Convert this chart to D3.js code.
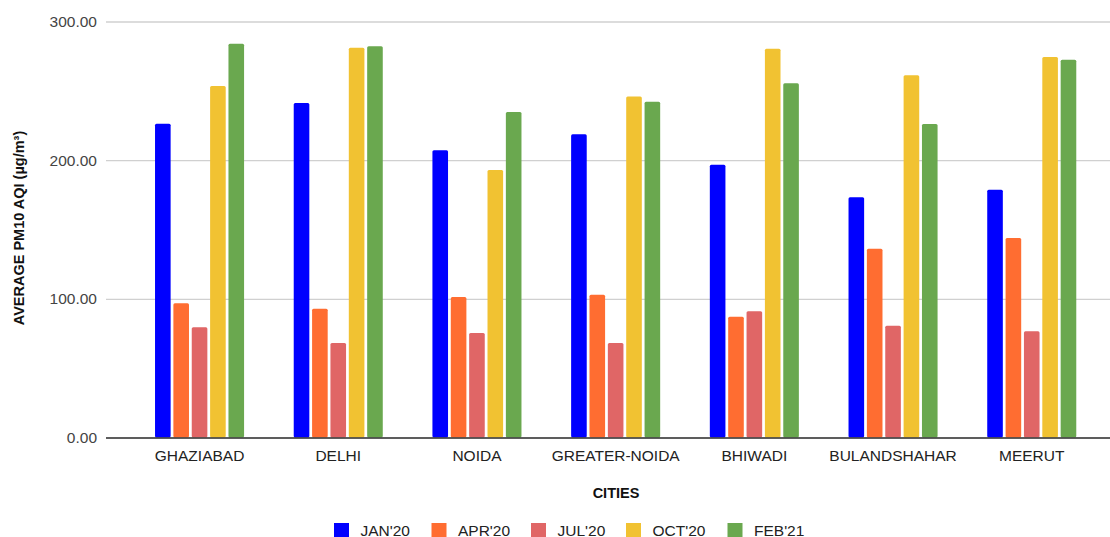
<!DOCTYPE html>
<html>
<head>
<meta charset="utf-8">
<script src="https://cdn.jsdelivr.net/npm/d3@7"></script>
<style>
  html, body { margin: 0; padding: 0; background: #fff; }
  svg { display: block; font-family: "Liberation Sans", Arial, sans-serif; }
</style>
</head>
<body>
<svg id="chart" width="1110" height="537"></svg>
<script>
// Average PM10 AQI by city and month
const cities = ["GHAZIABAD", "DELHI", "NOIDA", "GREATER-NOIDA", "BHIWADI", "BULANDSHAHAR", "MEERUT"];
const periods = ["JAN'20", "APR'20", "JUL'20", "OCT'20", "FEB'21"];
const jan20 = [226.3, 241.2, 207.1, 218.6, 196.7, 173.2, 178.7];
const apr20 = [96.8, 92.9, 101.3, 103.0, 87.1, 136.2, 143.9];
const jul20 = [79.5, 68.1, 75.4, 68.1, 91.0, 80.6, 76.6];
const oct20 = [253.5, 281.1, 192.9, 246.0, 280.3, 261.2, 274.4];
const feb21 = [284.0, 282.1, 234.7, 242.2, 255.4, 226.1, 272.4];
const yTicks = [0, 100, 200, 300];
const colors = ["#0000ff", "#ff6d31", "#e06666", "#f1c232", "#6aa84f"];

const seriesValues = [jan20, apr20, jul20, oct20, feb21];

const svg = d3.select("#chart");
const plotLeft = 106, plotRight = 1110, plotTop = 21.5, plotBottom = 437.5;

const x0 = d3.scaleBand().domain(cities).range([130.2, 1101.1])
  .paddingInner(0.358).paddingOuter(0.179);
const x1 = d3.scaleBand().domain(periods).range([0, x0.bandwidth()])
  .paddingInner(0.15).paddingOuter(0);
const y = d3.scaleLinear().domain([0, 300]).range([plotBottom, plotTop]);
const color = d3.scaleOrdinal().domain(periods).range(colors);

// Gridlines and y labels
const yAxis = svg.append("g").attr("transform", `translate(${plotLeft},0)`)
  .call(d3.axisLeft(y).tickValues(yTicks).tickFormat(d3.format(".2f"))
    .tickSize(-(plotRight - plotLeft)).tickPadding(9));
yAxis.select(".domain").remove();
yAxis.selectAll(".tick line").attr("stroke", "#d0d0d0").attr("stroke-width", 1.3);
yAxis.selectAll(".tick text").attr("fill", "#444").style("font-size", "15.5px")
  .style("font-family", "'Liberation Sans', Arial, sans-serif");

// Bars
const groups = svg.append("g").selectAll("g").data(cities).join("g")
  .attr("transform", c => `translate(${x0(c)},0)`);
groups.selectAll("rect")
  .data((c, i) => periods.map((p, k) => ({ period: p, value: seriesValues[k][i] })))
  .join("rect")
  .attr("x", d => x1(d.period))
  .attr("y", d => y(d.value))
  .attr("width", x1.bandwidth())
  .attr("height", d => y(0) - y(d.value))
  .attr("rx", 1.5)
  .attr("fill", d => color(d.period));

// Baseline and category labels
const xAxis = svg.append("g").attr("transform", `translate(0,${plotBottom})`)
  .call(d3.axisBottom(x0).tickSize(0).tickPadding(12));
xAxis.select(".domain").remove();
xAxis.selectAll(".tick text").attr("fill", "#222").style("font-size", "15.5px")
  .style("font-family", "'Liberation Sans', Arial, sans-serif");
svg.append("line").attr("x1", plotLeft).attr("x2", plotRight)
  .attr("y1", plotBottom + 0.5).attr("y2", plotBottom + 0.5)
  .attr("stroke", "#333").attr("stroke-width", 1.3);

// Axis titles
svg.append("text").attr("x", 616).attr("y", 498).attr("text-anchor", "middle")
  .attr("font-weight", "bold").attr("font-size", "14.5px").attr("fill", "#111")
  .text("CITIES");
svg.append("text").attr("transform", "translate(24,228) rotate(-90)")
  .attr("text-anchor", "middle").attr("font-weight", "bold")
  .attr("font-size", "14.5px").attr("fill", "#111")
  .text("AVERAGE PM10 AQI (µg/m³)");

// Legend
const legendX = [334, 431.5, 531, 626, 727.5];
const legend = svg.append("g").selectAll("g").data(periods).join("g")
  .attr("transform", (p, i) => `translate(${legendX[i]},523)`);
legend.append("rect").attr("width", 15).attr("height", 15).attr("fill", p => color(p));
legend.append("text").attr("x", 26.5).attr("y", 12.5).attr("font-size", "15.5px")
  .attr("fill", "#222").text(p => p);
</script>
</body>
</html>
